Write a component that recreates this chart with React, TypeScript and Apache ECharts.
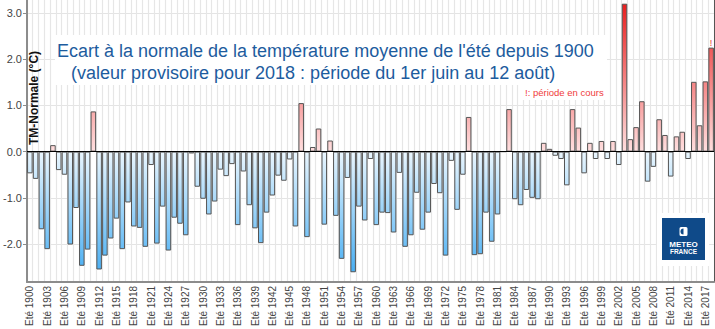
import React, { useEffect, useRef } from "react";
import * as echarts from "echarts";

// Summer temperature anomaly (°C) vs normal, 1900..2018
const firstYear = 1900;
const anomalies: number[] = [
  // 1900-1909
  -0.47, -0.59, -1.68, -2.11, 0.14, -0.4, -0.5, -2.01, -1.22, -2.47,
  // 1910-1919
  -2.12, 0.87, -2.55, -2.25, -1.88, -1.45, -2.11, -1.1, -1.62, -1.65,
  // 1920-1929
  -2.06, -0.29, -1.99, -1.19, -2.14, -1.43, -1.56, -1.81, -0.04, -0.76,
  // 1930-1939
  -1.02, -1.36, -1.08, -0.39, -0.53, -0.27, -1.59, -0.43, -1.16, -1.66,
  // 1940-1949
  -1.98, -1.32, -0.95, -0.52, -0.63, -0.17, -1.62, 1.05, -1.85, 0.1,
  // 1950-1959
  0.5, -1.58, 0.24, -1.39, -2.32, -0.57, -2.61, -1.19, -1.49, -0.16,
  // 1960-1969
  -1.59, -1.32, -1.33, -1.75, -0.46, -2.06, -1.81, -0.89, -1.69, -1.32,
  // 1970-1979
  -0.7, -0.9, -2.25, -0.2, -1.26, -0.5, 0.75, -2.24, -2.22, -1.32,
  // 1980-1989
  -1.95, -1.36, 0, 0.92, -1.03, -1.16, -0.83, -1.0, -1.03, 0.19,
  // 1990-1999
  0.06, -0.09, -0.16, -0.73, 0.92, 0.52, -0.47, 0.19, -0.16, 0.23,
  // 2000-2009
  -0.16, 0.23, -0.29, 3.2, 0.27, 0.53, 1.09, -0.65, -0.33, 0.7,
  // 2010-2018
  0.36, -0.54, 0.33, 0.43, -0.16, 1.51, 0.57, 1.52, 2.25,
];
const categories: string[] = anomalies.map((_, i) => `Eté ${firstYear + i}`);
const yTicks: number[] = [-2, -1, 0, 1, 2, 3];
const provisionalYear = 2018;

const titleLine1 = "Ecart à la normale de la température moyenne de l'été depuis 1900";
const titleLine2 = "(valeur provisoire pour 2018 : période du 1er juin au 12 août)";
const noteText = "!: période en cours";
const yName = "TM-Normale (°C)";

const FONT = "'Liberation Sans', Arial, sans-serif";

export default function App() {
  const ref = useRef<HTMLDivElement>(null);

  useEffect(() => {
    if (!ref.current) return;
    const chart = echarts.init(ref.current, undefined, { renderer: "svg" });

    const gridTop = 0;
    const gridHeight = 283;
    const yMin = -2.82;
    const yMax = 3.28;
    const zeroY = gridTop + (gridHeight * yMax) / (yMax - yMin);

    const posGrad = new echarts.graphic.LinearGradient(
      0, zeroY, 0, gridTop,
      [
        { offset: 0, color: "#ffe0e0" },
        { offset: 1, color: "#e81a1a" },
      ],
      true
    );
    const negGrad = new echarts.graphic.LinearGradient(
      0, zeroY, 0, gridTop + gridHeight,
      [
        { offset: 0, color: "#eaf6fe" },
        { offset: 1, color: "#3aa8f2" },
      ],
      true
    );

    const data = anomalies.map((v, i) => {
      const item: any = {
        value: v,
        itemStyle: { color: v >= 0 ? posGrad : negGrad },
      };
      if (firstYear + i === provisionalYear) {
        item.label = {
          show: true,
          position: "top",
          distance: 0,
          formatter: "!",
          color: "#ee3030",
          fontSize: 9,
          fontFamily: FONT,
        };
      }
      return item;
    });

    chart.setOption({
      animation: false,
      backgroundColor: "#ffffff",
      grid: { left: 22, right: 1, top: gridTop, height: gridHeight, containLabel: false },
      xAxis: {
        type: "category",
        data: categories,
        boundaryGap: true,
        axisLine: { show: true, onZero: false, lineStyle: { color: "#8c8c8c", width: 2 } },
        axisTick: { show: false },
        axisLabel: {
          interval: 2,
          rotate: 90,
          margin: 4,
          fontSize: 10,
          color: "#444",
          fontFamily: FONT,
        },
        splitLine: { show: true, interval: 0, lineStyle: { color: "#e6e6e6", width: 1.2 } },
      },
      yAxis: [
        {
          type: "value",
          min: yMin,
          max: yMax,
          axisLine: { show: true, lineStyle: { color: "#8c8c8c", width: 2 } },
          axisTick: { show: true, length: 4, customValues: yTicks, lineStyle: { color: "#8c8c8c" } },
          axisLabel: {
            customValues: yTicks,
            formatter: (v: number) => v.toFixed(1),
            fontSize: 11,
            margin: 5,
            color: "#444",
            fontFamily: FONT,
          },
          splitLine: { show: true, lineStyle: { color: "#e4e4e4", width: 1 } },
        },
        {
          type: "value",
          position: "right",
          min: yMin,
          max: yMax,
          axisLine: { show: true, lineStyle: { color: "#555", width: 1 } },
          axisTick: { show: false },
          axisLabel: { show: false },
          splitLine: { show: false },
        },
      ],
      series: [
        {
          type: "bar",
          data,
          barCategoryGap: "4%",
          itemStyle: { borderColor: "#555", borderWidth: 1 },
          z: 2,
          markLine: {
            silent: true,
            symbol: "none",
            label: { show: false },
            lineStyle: { color: "#000", width: 1, type: "solid" },
            data: [{ yAxis: 0 }],
          },
        },
      ],
      graphic: [
        { type: "rect", silent: true, z: 1, shape: { x: 55, y: 35, width: 552, height: 50 }, style: { fill: "#fff" } },
        { type: "rect", silent: true, z: 1, shape: { x: 522, y: 84, width: 85, height: 16 }, style: { fill: "#fff" } },
        {
          type: "text", silent: true, z: 5, x: 57, y: 51,
          style: { text: titleLine1, fill: "#1d5c9e", fontSize: 18, fontFamily: FONT, align: "left", verticalAlign: "middle" },
        },
        {
          type: "text", silent: true, z: 5, x: 71, y: 73,
          style: { text: titleLine2, fill: "#1d5c9e", fontSize: 18, fontFamily: FONT, align: "left", verticalAlign: "middle" },
        },
        {
          type: "text", silent: true, z: 5, x: 525, y: 92,
          style: { text: noteText, fill: "#f03c3c", fontSize: 9.5, fontFamily: FONT, align: "left", verticalAlign: "middle" },
        },
        {
          type: "text", silent: true, z: 5, x: 34, y: 98, rotation: Math.PI / 2,
          style: { text: yName, fill: "#111", fontSize: 12, fontWeight: "bold", fontFamily: FONT, align: "center", verticalAlign: "middle" },
        },
        // logo
        { type: "rect", silent: true, z: 1, shape: { x: 657, y: 213, width: 52, height: 53 }, style: { fill: "#fff" } },
        { type: "rect", silent: true, z: 4, shape: { x: 662, y: 218, width: 43, height: 42 }, style: { fill: "#0f4a89" } },
        { type: "rect", silent: true, z: 5, shape: { x: 679.5, y: 227, width: 8, height: 9, r: 1.5 }, style: { fill: "#fff" } },
        { type: "sector", silent: true, z: 6, shape: { cx: 683.5, cy: 231.5, r: 3, startAngle: Math.PI / 2, endAngle: (3 * Math.PI) / 2 }, style: { fill: "#0f4a89" } },
        {
          type: "text", silent: true, z: 6, x: 683.5, y: 244,
          style: { text: "METEO", fill: "#fff", fontSize: 8, fontWeight: "bold", fontFamily: FONT, align: "center", verticalAlign: "middle" },
        },
        {
          type: "text", silent: true, z: 6, x: 683.5, y: 251.5,
          style: { text: "FRANCE", fill: "#fff", fontSize: 6.5, fontWeight: "bold", fontFamily: FONT, align: "center", verticalAlign: "middle" },
        },
      ],
    });

    return () => chart.dispose();
  }, []);

  return (
    <div
      ref={ref}
      style={{ position: "fixed", left: 0, top: 0, width: 715, height: 329, background: "#fff" }}
    />
  );
}
